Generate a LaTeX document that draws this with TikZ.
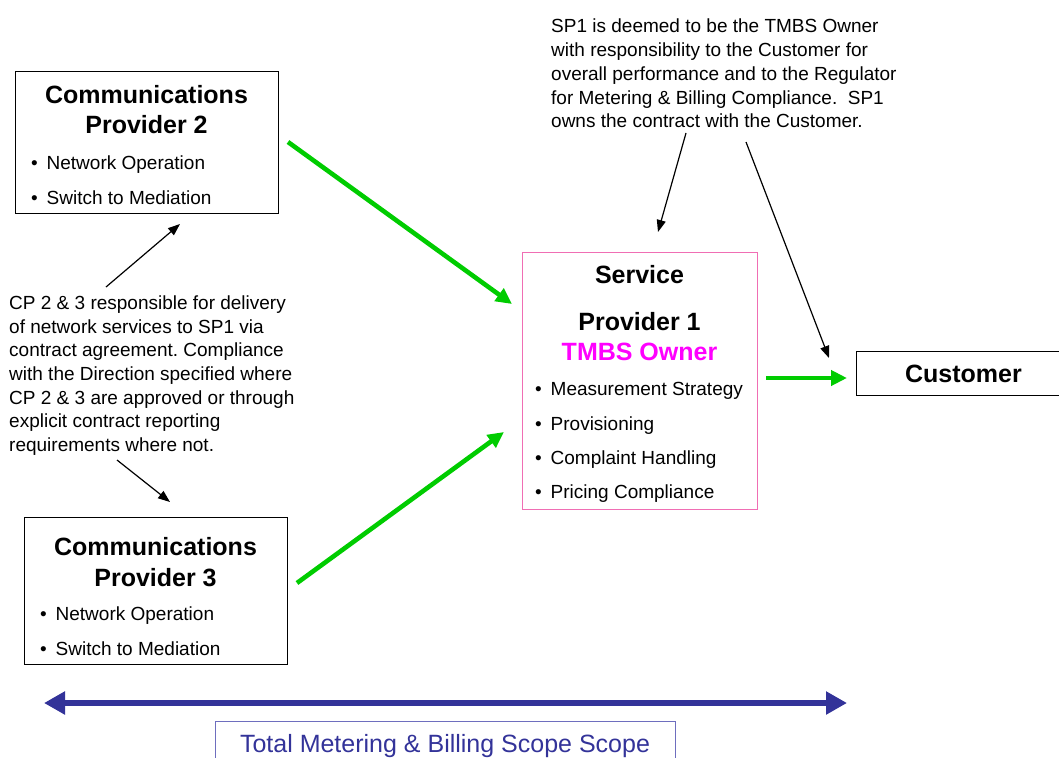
\documentclass[tikz,border=0pt]{standalone}
\usepackage{fontspec}
\setmainfont{Liberation Sans}
\usetikzlibrary{arrows.meta}
\frenchspacing
\definecolor{arrgreen}{RGB}{0,204,0}
\definecolor{boxpink}{RGB}{240,110,180}
\definecolor{tmbs}{RGB}{255,0,255}
\definecolor{scopeblue}{RGB}{51,51,153}
\definecolor{scopeedge}{RGB}{110,110,190}
\newcommand{\regf}{\fontsize{19}{23.7}\selectfont}
\newcommand{\titf}{\fontsize{25}{30}\selectfont\bfseries}
\newcommand{\bul}{\makebox[15.5pt][l]{•}}
\tikzset{
  boxnode/.style={draw=black, line width=0.8pt, minimum width=#1, inner sep=0pt, anchor=north west},
  titletext/.style={font=\titf, inner sep=0pt, anchor=base},
  bultext/.style={font=\regf, inner sep=0pt, anchor=base west},
  notetext/.style={font=\regf, inner sep=0pt, anchor=north west, align=left},
  greenarrow/.style={draw=arrgreen, line width=4.6pt, -{Triangle[length=16pt,width=15pt]}},
  thinarrow/.style={draw=black, line width=1.2pt, -{Triangle[length=12pt,width=9pt]}},
  scopearrow/.style={draw=scopeblue, line width=6.5pt, {Triangle[length=21pt,width=22pt]}-{Triangle[length=21pt,width=22pt]}}
}
\begin{document}
\begin{tikzpicture}[x=1pt,y=-1pt]
\path[clip] (0,0) rectangle (1059,757);
% Communications Provider 2
\node[boxnode=263pt, minimum height=142pt] (cp2) at (15,71) {};
\node[titletext] (cp2a) at (146.5,103) {Communications};
\node[titletext] (cp2b) at (146.5,133) {Provider 2};
\node[bultext] (cp2c) at (31,169) {\bul Network Operation};
\node[bultext] (cp2d) at (31,204) {\bul Switch to Mediation};
% Communications Provider 3
\node[boxnode=263pt, minimum height=147pt] (cp3) at (24,517) {};
\node[titletext] (cp3a) at (155.5,555) {Communications};
\node[titletext] (cp3b) at (155.5,586) {Provider 3};
\node[bultext] (cp3c) at (40,620) {\bul Network Operation};
\node[bultext] (cp3d) at (40,655) {\bul Switch to Mediation};
% Service Provider 1
\node[boxnode=235pt, minimum height=257pt, draw=boxpink] (sp1) at (522,251.5) {};
\node[titletext] (sp1a) at (639.5,283) {Service};
\node[titletext] (sp1b) at (639.5,330) {Provider 1};
\node[titletext, text=tmbs] (sp1c) at (639.5,360) {TMBS Owner};
\node[bultext] (sp1d) at (535,395) {\bul Measurement Strategy};
\node[bultext] (sp1e) at (535,430) {\bul Provisioning};
\node[bultext] (sp1f) at (535,464) {\bul Complaint Handling};
\node[bultext] (sp1g) at (535,498) {\bul Pricing Compliance};
% Customer
\node[boxnode=220pt, minimum height=44pt] (cust) at (856,350.5) {};
\node[titletext] (custt) at (963.5,382) {Customer};
% Notes
\node[notetext] (topnote) at (551,19) {SP1 is deemed to be the TMBS Owner\\with responsibility to the Customer for\\overall performance and to the Regulator\\for Metering \& Billing Compliance.\ \ SP1\\owns the contract with the Customer.};
\node[notetext] (leftnote) at (9,295.5) {CP 2 \& 3 responsible for delivery\\of network services to SP1 via\\contract agreement. Compliance\\with the Direction specified where\\CP 2 \& 3 are approved or through\\explicit contract reporting\\requirements where not.};
% Scope box
\node[boxnode=460pt, minimum height=50pt, draw=scopeedge, line width=1pt] (scope) at (215,720.5) {};
\node[anchor=base, inner sep=0pt, font=\fontsize{25}{30}\selectfont, text=scopeblue] (scopet) at (445,752) {Total Metering \& Billing Scope Scope};
% Arrow end coordinates
\coordinate (g1s) at (288,142);
\coordinate (g1e) at (512,304);
\coordinate (g2s) at (297,583);
\coordinate (g2e) at (504,432);
\coordinate (g3s) at (766,378);
\coordinate (g3e) at (847,378);
\coordinate (k1s) at (106,287);
\coordinate (k1e) at (180,224);
\coordinate (k2s) at (117,460);
\coordinate (k2e) at (170,502);
\coordinate (k3s) at (686,133);
\coordinate (k3e) at (658,232);
\coordinate (k4s) at (746,142);
\coordinate (k4e) at (829,358);
\coordinate (bl) at (44,703);
\coordinate (br) at (847,703);
% Arrows
\draw[greenarrow] (g1s) -- (g1e);
\draw[greenarrow] (g2s) -- (g2e);
\draw[greenarrow] (g3s) -- (g3e);
\draw[thinarrow] (k1s) -- (k1e);
\draw[thinarrow] (k2s) -- (k2e);
\draw[thinarrow] (k3s) -- (k3e);
\draw[thinarrow] (k4s) -- (k4e);
\draw[scopearrow] (bl) -- (br);
\end{tikzpicture}
\end{document}
